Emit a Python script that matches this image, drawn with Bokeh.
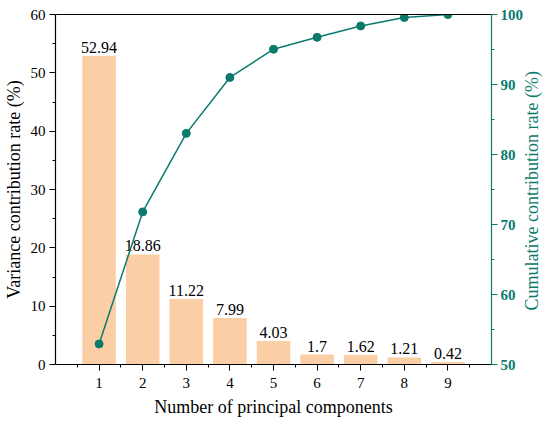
import math
from bokeh.plotting import figure
from bokeh.models import LinearAxis, Range1d, FixedTicker, ColumnDataSource
from bokeh.embed import file_html
from bokeh.resources import INLINE
from bokeh.core.properties import value

components = [1, 2, 3, 4, 5, 6, 7, 8, 9]
variance = [52.94, 18.86, 11.22, 7.99, 4.03, 1.7, 1.62, 1.21, 0.42]
cumulative = [52.94, 71.8, 83.02, 91.01, 95.04, 96.74, 98.36, 99.57, 99.99]
labels = ["52.94", "18.86", "11.22", "7.99", "4.03", "1.7", "1.62", "1.21", "0.42"]

BAR = "#FBCFA6"
TEAL = "#0B7A6D"
FONT = "Liberation Serif"

p = figure(frame_width=436, frame_height=350, output_backend="svg", toolbar_location=None,
           x_range=Range1d(0, 10), y_range=Range1d(0, 60),
           min_border_left=54, min_border_right=40, min_border_top=14, min_border_bottom=52)
p.extra_y_ranges = {"cum": Range1d(50, 100)}
p.outline_line_color = None
p.grid.visible = False
p.background_fill_color = "white"

src = ColumnDataSource(dict(x=components, v=variance, c=cumulative, t=labels))
p.vbar(x="x", top="v", width=0.77, bottom=0, source=src, fill_color=BAR, line_color=None)
p.text(x="x", y="v", text="t", source=src, text_align="center", text_baseline="bottom",
       y_offset=-3, text_font=value(FONT), text_font_size="16px", text_color="black")
p.line(x="x", y="c", source=src, y_range_name="cum", line_color=TEAL, line_width=1.5)
p.scatter(x="x", y="c", source=src, y_range_name="cum", size=8, fill_color=TEAL, line_color=TEAL)

def style(ax, color="black"):
    ax.axis_line_color = color
    ax.major_tick_line_color = color
    ax.minor_tick_line_color = color
    ax.major_label_text_color = color
    ax.axis_label_text_color = color
    ax.major_tick_out = 6
    ax.major_tick_in = 0
    ax.minor_tick_out = 3
    ax.minor_tick_in = 0
    ax.major_label_text_font = FONT
    ax.axis_label_text_font = FONT
    ax.major_label_text_font_size = "15px"
    ax.axis_label_text_font_size = "18px"
    ax.axis_label_text_font_style = "normal"
    ax.axis_line_width = 1.2

xa = p.xaxis[0]
style(xa)
xa.ticker = FixedTicker(ticks=components, minor_ticks=[0.5 + i for i in range(10)])
xa.axis_label = "Number of principal components"
xa.major_label_standoff = 7
xa.axis_label_standoff = 6

ya = p.yaxis[0]
style(ya)
ya.ticker = FixedTicker(ticks=[0, 10, 20, 30, 40, 50, 60], minor_ticks=[5, 15, 25, 35, 45, 55])
ya.axis_label = "Variance contribution rate (%)"
ya.major_label_standoff = 4
ya.axis_label_standoff = 4

ra = LinearAxis(y_range_name="cum",
                axis_label="\u00a0" * 12 + "Cumulative contribution rate (%)")
style(ra, TEAL)
ra.ticker = FixedTicker(ticks=[50, 60, 70, 80, 90, 100], minor_ticks=[55, 65, 75, 85, 95])
ra.major_label_text_font_style = "bold"
ra.major_label_standoff = 3
ra.axis_label_standoff = 6
ra.axis_label_orientation = math.pi / 2
ra.axis_label_align = "start"
p.add_layout(ra, "right")

top = LinearAxis(ticker=FixedTicker(ticks=[]), axis_line_color="black", axis_line_width=1.2,
                 major_tick_line_color=None, minor_tick_line_color=None,
                 major_label_text_font_size="0px")
p.add_layout(top, "above")

open("out.html", "w").write(file_html(p, INLINE))
